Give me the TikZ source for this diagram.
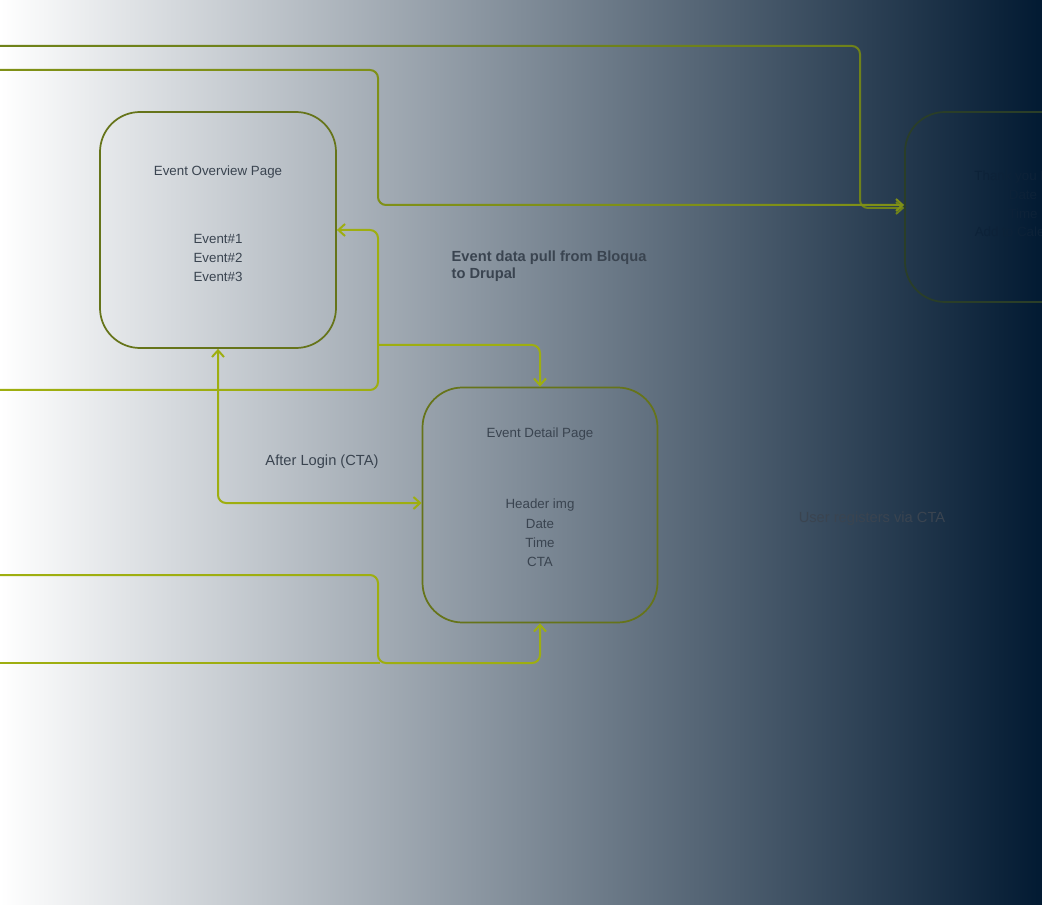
\documentclass[tikz,border=0pt]{standalone}
\usepackage{fontspec}
\setmainfont{Liberation Sans}
\usetikzlibrary{arrows.meta}
\definecolor{ln}{HTML}{9EAE10}
\definecolor{lnd}{HTML}{66741A}
\definecolor{navy}{HTML}{021A32}
\definecolor{tx}{HTML}{3A4450}
\begin{document}
\begin{tikzpicture}[x=0.75pt,y=-0.75pt,
  box/.style={draw=lnd,line width=1.3pt,rounded corners=30pt,inner sep=0pt,align=center,text=tx,font=\fontsize{10}{14}\selectfont},
  con/.style={draw=ln,line width=1.5pt,rounded corners=6pt},
  arr/.style={con,-{Straight Barb[length=5pt,width=9pt]}},
  lbl/.style={text=tx,font=\fontsize{11}{13}\selectfont,align=left}]
\clip (0,0) rectangle (1042,905);
\shade[left color=white,right color=navy] (0,0) rectangle (1042,905);
\node[box,minimum width=236*0.75pt,minimum height=236*0.75pt] (ov) at (218,230) {};
\node[text=tx,font=\fontsize{10}{14}\selectfont,align=center] at (218,172) {Event Overview Page};
\node[text=tx,font=\fontsize{10}{14}\selectfont,align=center] at (218,258) {Event\#1\\Event\#2\\Event\#3};
\node[box,minimum width=235*0.75pt,minimum height=235*0.75pt] (dt) at (540,505) {};
\node[text=tx,font=\fontsize{10}{14}\selectfont] at (540,434) {Event Detail Page};
\node[text=tx,font=\fontsize{10}{14.6}\selectfont,align=center] at (540,533) {Header img\\Date\\Time\\CTA};
\node[box,draw=navy!60!lnd,minimum width=236*0.75pt,minimum height=190*0.75pt] (ty) at (1023,207) {};
\node[text=navy!80!tx,font=\fontsize{10}{14}\selectfont,align=center] at (1023,204) {Thank you Page\\Date\\Time\\Add to Calendar};
\coordinate (a1) at (0,46); \coordinate (a2) at (0,70);
\coordinate (b1) at (0,390); \coordinate (c1) at (0,575); \coordinate (c2) at (0,663);
\draw[arr,draw=ln!70!navy] (a1) -| (860,208) -- (ty.west|-0,208);
\draw[arr,draw=ln!80!navy] (a2) -| (378,205) -- (ty.west|-0,205);
\draw[arr] (b1) -| (378,230) -- (ov.east|-0,230);
\draw[arr] (378,345) -| (dt.north);
\draw[con,{Straight Barb[length=5pt,width=9pt]}-{Straight Barb[length=5pt,width=9pt]}] (ov.south) |- (dt.west|-0,503);
\draw[arr] (c1) -| (378,663) -| (dt.south);
\draw[con] (c2) -- (380,663);
\node[lbl,anchor=north west,font=\bfseries\fontsize{11}{13}\selectfont] at (447,246) {Event data pull from Bloqua\\to Drupal};
\node[lbl] at (322,462) {After Login (CTA)};
\node[lbl] at (872,519) {User registers via CTA};
\end{tikzpicture}
\end{document}
